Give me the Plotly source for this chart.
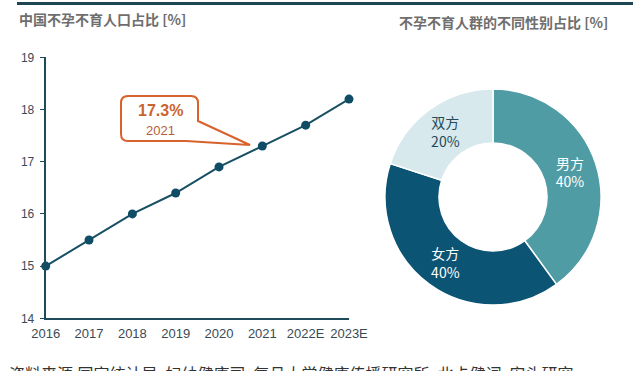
import plotly.graph_objects as go

# ---- data ----
years = ["2016", "2017", "2018", "2019", "2020", "2021", "2022E", "2023E"]
infertility_rate = [15.0, 15.5, 16.0, 16.4, 16.9, 17.3, 17.7, 18.2]
y_ticks = [14, 15, 16, 17, 18, 19]

gender_labels = ["男方", "女方", "双方"]
gender_share = [40, 40, 20]

highlight_index = 5  # 2021

W, H = 640, 371
def px(x):
    return x / W
def py(y):
    return 1 - y / H

DARK = "#1d4b5a"
LINE = "#174f63"

fig = go.Figure()

xi = list(range(len(years)))
fig.add_trace(go.Scatter(
    x=xi, y=infertility_rate, mode="lines+markers",
    line=dict(color=LINE, width=2),
    marker=dict(color="#0f4c66", size=9),
    showlegend=False, hoverinfo="skip", cliponaxis=False,
    xaxis="x", yaxis="y",
))

fig.add_trace(go.Pie(
    labels=gender_labels, values=gender_share,
    hole=0.5, sort=False, direction="clockwise", rotation=0,
    marker=dict(colors=["#4f9ca5", "#0c5474", "#d7e9ed"],
                line=dict(color="white", width=1.5)),
    texttemplate="%{label}<br>%{value}%",
    textposition="inside", insidetextorientation="horizontal",
    textfont=dict(size=14, color=["white", "white", "#1f4a5a"],
                  family="Noto Sans CJK SC, Liberation Sans"),
    domain=dict(x=[px(385), px(601)], y=[py(305), py(89)]),
    showlegend=False, hoverinfo="skip",
))

fig.update_layout(
    width=W, height=H,
    margin=dict(l=0, r=0, t=0, b=0, pad=0),
    paper_bgcolor="white", plot_bgcolor="white",
    font=dict(family="Liberation Sans, Arial, sans-serif", color="#444"),
    xaxis=dict(
        domain=[px(45.7), px(349)], range=[0, len(years) - 1],
        tickmode="array", tickvals=xi, ticktext=years,
        showgrid=False, zeroline=False, automargin=False,
        showline=True, linecolor=DARK, linewidth=2,
        ticks="", tickfont=dict(size=13, color="#3a4a55"),
        ticklabelstandoff=2,
    ),
    yaxis=dict(
        domain=[py(318.3), py(57.3)], range=[14, 19],
        tickmode="array", tickvals=y_ticks,
        showgrid=False, zeroline=False, automargin=False,
        showline=True, linecolor=DARK, linewidth=2,
        ticks="outside", ticklen=4, tickcolor=DARK, tickwidth=1,
        tickfont=dict(size=12, color="#3a4a55"),
        ticklabelstandoff=3,
    ),
)

# top rule
fig.add_shape(type="line", xref="paper", yref="paper",
              x0=px(17), x1=px(633), y0=py(3.5), y1=py(3.5),
              line=dict(color="#1d4652", width=3))

# titles
title_font = dict(family="Noto Sans CJK SC, sans-serif", size=14, color="#6e6e6e")
fig.add_annotation(xref="paper", yref="paper", x=px(17), y=py(19),
                   xanchor="left", yanchor="middle", showarrow=False,
                   text="<b>中国不孕不育人口占比 [%]</b>", font=title_font)
fig.add_annotation(xref="paper", yref="paper", x=px(503), y=py(22),
                   xanchor="center", yanchor="middle", showarrow=False,
                   text="<b>不孕不育人群的不同性别占比 [%]</b>", font=title_font)

# callout box with pointer (decoration)
L, T, R, B, r = 121, 96, 198, 141, 7
tipx, tipy = 250, 145
pts = (
    f"M {px(L+r)},{py(T)} L {px(R-r)},{py(T)} "
    f"Q {px(R)},{py(T)} {px(R)},{py(T+r)} "
    f"L {px(R)},{py(121)} L {px(tipx)},{py(tipy)} L {px(186)},{py(B)} "
    f"L {px(L+r)},{py(B)} Q {px(L)},{py(B)} {px(L)},{py(B-r)} "
    f"L {px(L)},{py(T+r)} Q {px(L)},{py(T)} {px(L+r)},{py(T)} Z"
)
fig.add_shape(type="path", xref="paper", yref="paper", path=pts,
              fillcolor="white", line=dict(color="#d8622c", width=2))

fig.add_annotation(xref="paper", yref="paper", x=px(160), y=py(110),
                   xanchor="center", yanchor="middle", showarrow=False,
                   text=f"<b>{infertility_rate[highlight_index]}%</b>",
                   font=dict(size=16, color="#c9642e", family="Liberation Sans, Arial"))
fig.add_annotation(xref="paper", yref="paper", x=px(160), y=py(130),
                   xanchor="center", yanchor="middle", showarrow=False,
                   text=years[highlight_index],
                   font=dict(size=13, color="#b5603a", family="Liberation Sans, Arial"))

# source line (partly cut at bottom, as in the reference)
fig.add_annotation(xref="paper", yref="paper", x=px(7), y=py(359),
                   xanchor="left", yanchor="top", showarrow=False,
                   text="资料来源:国家统计局, 妇幼健康司, 复旦大学健康传播研究所, 北卡健词, 安头研究",
                   font=dict(size=16, color="#333", family="Noto Sans CJK SC, sans-serif"))

fig.write_html("out.html",
               config={"displayModeBar": False, "staticPlot": True},
               post_script="document.body.style.margin='0';document.body.style.overflow='hidden';")
